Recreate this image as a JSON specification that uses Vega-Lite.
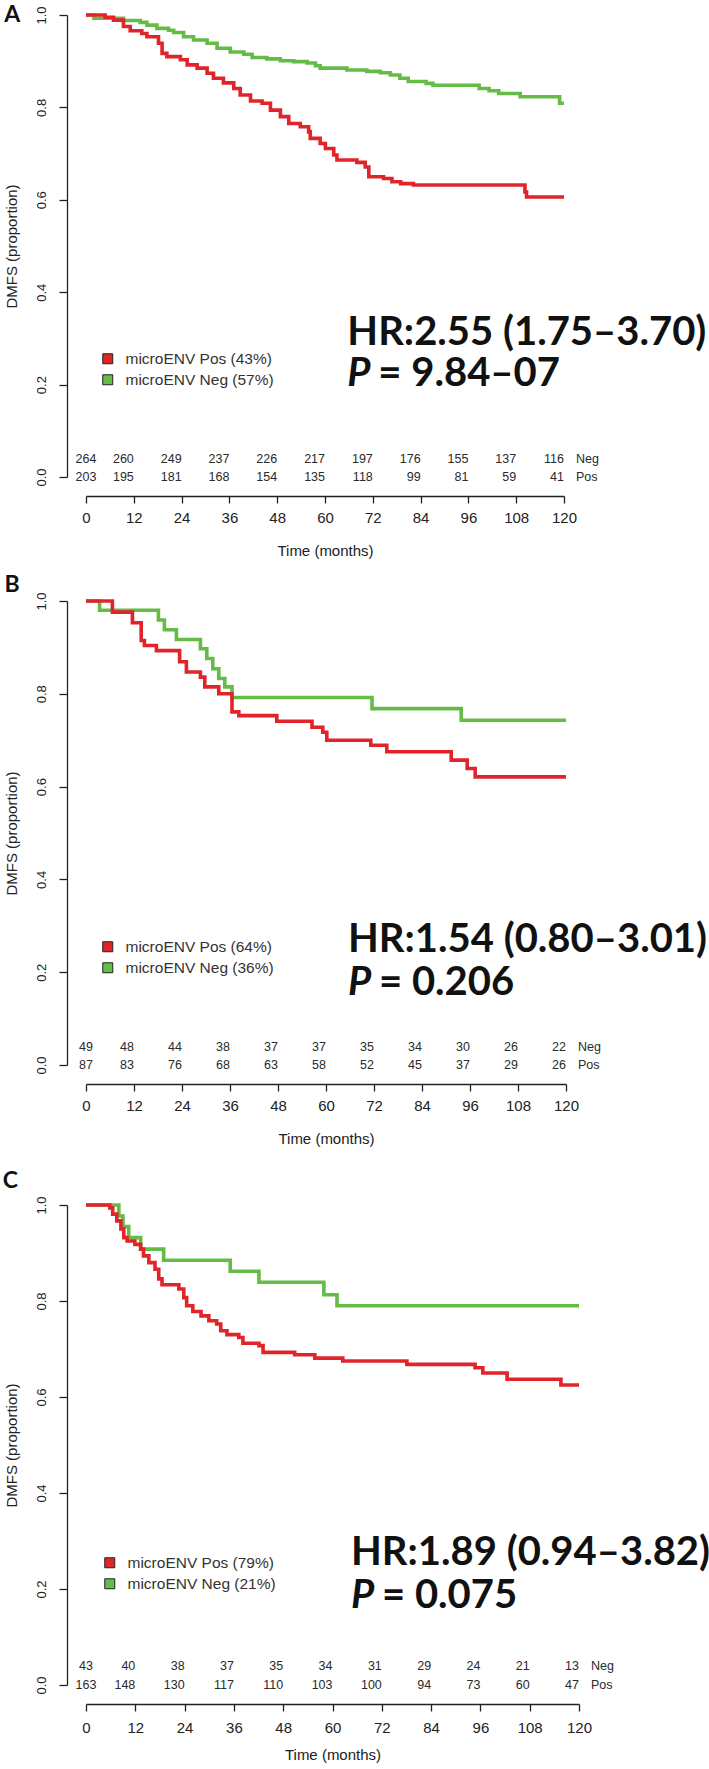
{
 "$schema": "https://vega.github.io/schema/vega-lite/v6.json",
 "padding": {"left": 2, "top": 4, "right": 0, "bottom": 0},
 "background": "white",
 "datasets": {
  "A_curve": [
   {"t":0,"s":1,"g":"Neg"},{"t":2,"s":0.993,"g":"Neg"},{"t":9.4,"s":0.988,"g":"Neg"},{"t":13.6,"s":0.984,"g":"Neg"},{"t":15.3,"s":0.978,"g":"Neg"},{"t":17.8,"s":0.971,"g":"Neg"},{"t":20.7,"s":0.967,"g":"Neg"},{"t":22,"s":0.962,"g":"Neg"},{"t":24.5,"s":0.953,"g":"Neg"},{"t":27,"s":0.946,"g":"Neg"},{"t":30.4,"s":0.939,"g":"Neg"},{"t":32.9,"s":0.928,"g":"Neg"},{"t":36.2,"s":0.92,"g":"Neg"},{"t":39.6,"s":0.915,"g":"Neg"},{"t":41.7,"s":0.908,"g":"Neg"},{"t":45.4,"s":0.905,"g":"Neg"},{"t":48.8,"s":0.901,"g":"Neg"},{"t":52.1,"s":0.899,"g":"Neg"},{"t":55.5,"s":0.896,"g":"Neg"},{"t":57.6,"s":0.89,"g":"Neg"},{"t":58.8,"s":0.885,"g":"Neg"},{"t":65.5,"s":0.881,"g":"Neg"},{"t":70.5,"s":0.878,"g":"Neg"},{"t":73.9,"s":0.875,"g":"Neg"},{"t":76.4,"s":0.87,"g":"Neg"},{"t":78.8,"s":0.863,"g":"Neg"},{"t":80.9,"s":0.856,"g":"Neg"},{"t":85.4,"s":0.852,"g":"Neg"},{"t":87.1,"s":0.848,"g":"Neg"},{"t":98.7,"s":0.841,"g":"Neg"},{"t":101.2,"s":0.836,"g":"Neg"},{"t":103.6,"s":0.83,"g":"Neg"},{"t":109,"s":0.823,"g":"Neg"},{"t":118.9,"s":0.809,"g":"Neg"},{"t":120,"s":0.809,"g":"Neg"},
   {"t":0,"s":1,"g":"Pos"},{"t":4.8,"s":0.995,"g":"Pos"},{"t":6.9,"s":0.989,"g":"Pos"},{"t":9.4,"s":0.975,"g":"Pos"},{"t":11.1,"s":0.966,"g":"Pos"},{"t":14,"s":0.96,"g":"Pos"},{"t":15.3,"s":0.953,"g":"Pos"},{"t":18.2,"s":0.939,"g":"Pos"},{"t":19.1,"s":0.917,"g":"Pos"},{"t":20.3,"s":0.91,"g":"Pos"},{"t":23.7,"s":0.903,"g":"Pos"},{"t":25.4,"s":0.892,"g":"Pos"},{"t":27.9,"s":0.885,"g":"Pos"},{"t":30.4,"s":0.874,"g":"Pos"},{"t":32,"s":0.863,"g":"Pos"},{"t":34.5,"s":0.853,"g":"Pos"},{"t":37.1,"s":0.841,"g":"Pos"},{"t":38.7,"s":0.827,"g":"Pos"},{"t":41.3,"s":0.814,"g":"Pos"},{"t":44.2,"s":0.809,"g":"Pos"},{"t":46.3,"s":0.794,"g":"Pos"},{"t":48.8,"s":0.78,"g":"Pos"},{"t":50.9,"s":0.765,"g":"Pos"},{"t":53.8,"s":0.758,"g":"Pos"},{"t":55.9,"s":0.747,"g":"Pos"},{"t":56.3,"s":0.733,"g":"Pos"},{"t":58.8,"s":0.722,"g":"Pos"},{"t":60.1,"s":0.711,"g":"Pos"},{"t":62.2,"s":0.697,"g":"Pos"},{"t":63,"s":0.686,"g":"Pos"},{"t":68,"s":0.681,"g":"Pos"},{"t":70.1,"s":0.671,"g":"Pos"},{"t":71,"s":0.65,"g":"Pos"},{"t":74.7,"s":0.646,"g":"Pos"},{"t":76.8,"s":0.639,"g":"Pos"},{"t":79,"s":0.635,"g":"Pos"},{"t":82.2,"s":0.632,"g":"Pos"},{"t":110.2,"s":0.617,"g":"Pos"},{"t":110.6,"s":0.606,"g":"Pos"},{"t":120,"s":0.606,"g":"Pos"}
  ],
  "B_curve": [
   {"t":0,"s":1,"g":"Neg"},{"t":3.4,"s":0.98,"g":"Neg"},{"t":18.1,"s":0.959,"g":"Neg"},{"t":19.6,"s":0.938,"g":"Neg"},{"t":22.6,"s":0.917,"g":"Neg"},{"t":28.6,"s":0.897,"g":"Neg"},{"t":30.2,"s":0.876,"g":"Neg"},{"t":31.7,"s":0.854,"g":"Neg"},{"t":33.2,"s":0.833,"g":"Neg"},{"t":34.7,"s":0.815,"g":"Neg"},{"t":36.5,"s":0.792,"g":"Neg"},{"t":71.5,"s":0.768,"g":"Neg"},{"t":93.8,"s":0.743,"g":"Neg"},{"t":120,"s":0.743,"g":"Neg"},
   {"t":0,"s":1,"g":"Pos"},{"t":6.6,"s":0.976,"g":"Pos"},{"t":11.6,"s":0.953,"g":"Pos"},{"t":13.8,"s":0.915,"g":"Pos"},{"t":14.6,"s":0.904,"g":"Pos"},{"t":17.6,"s":0.893,"g":"Pos"},{"t":23.4,"s":0.869,"g":"Pos"},{"t":25.1,"s":0.847,"g":"Pos"},{"t":28.6,"s":0.836,"g":"Pos"},{"t":29.7,"s":0.815,"g":"Pos"},{"t":33.2,"s":0.8,"g":"Pos"},{"t":36.5,"s":0.761,"g":"Pos"},{"t":38.2,"s":0.753,"g":"Pos"},{"t":47.7,"s":0.741,"g":"Pos"},{"t":56.5,"s":0.728,"g":"Pos"},{"t":59.2,"s":0.717,"g":"Pos"},{"t":60.2,"s":0.7,"g":"Pos"},{"t":71.2,"s":0.689,"g":"Pos"},{"t":75.2,"s":0.675,"g":"Pos"},{"t":91.3,"s":0.657,"g":"Pos"},{"t":95.3,"s":0.639,"g":"Pos"},{"t":97.3,"s":0.621,"g":"Pos"},{"t":120,"s":0.621,"g":"Pos"}
  ],
  "C_curve": [
   {"t":0,"s":1,"g":"Neg"},{"t":8,"s":0.977,"g":"Neg"},{"t":9,"s":0.955,"g":"Neg"},{"t":10.4,"s":0.932,"g":"Neg"},{"t":13.3,"s":0.908,"g":"Neg"},{"t":18.9,"s":0.885,"g":"Neg"},{"t":35.1,"s":0.862,"g":"Neg"},{"t":42.1,"s":0.839,"g":"Neg"},{"t":57.9,"s":0.813,"g":"Neg"},{"t":61.1,"s":0.79,"g":"Neg"},{"t":120,"s":0.79,"g":"Neg"},
   {"t":0,"s":1,"g":"Pos"},{"t":5.8,"s":0.994,"g":"Pos"},{"t":6.5,"s":0.981,"g":"Pos"},{"t":7.5,"s":0.967,"g":"Pos"},{"t":8.5,"s":0.95,"g":"Pos"},{"t":9.2,"s":0.932,"g":"Pos"},{"t":10,"s":0.925,"g":"Pos"},{"t":11.9,"s":0.918,"g":"Pos"},{"t":13.3,"s":0.908,"g":"Pos"},{"t":14,"s":0.894,"g":"Pos"},{"t":15.3,"s":0.88,"g":"Pos"},{"t":16.8,"s":0.866,"g":"Pos"},{"t":17.7,"s":0.846,"g":"Pos"},{"t":18.5,"s":0.834,"g":"Pos"},{"t":22.6,"s":0.825,"g":"Pos"},{"t":23.8,"s":0.807,"g":"Pos"},{"t":24.5,"s":0.79,"g":"Pos"},{"t":26,"s":0.778,"g":"Pos"},{"t":28,"s":0.769,"g":"Pos"},{"t":29.9,"s":0.759,"g":"Pos"},{"t":31.8,"s":0.752,"g":"Pos"},{"t":32.8,"s":0.738,"g":"Pos"},{"t":34.3,"s":0.73,"g":"Pos"},{"t":37.2,"s":0.724,"g":"Pos"},{"t":38.2,"s":0.712,"g":"Pos"},{"t":42.1,"s":0.707,"g":"Pos"},{"t":43.1,"s":0.693,"g":"Pos"},{"t":50.8,"s":0.688,"g":"Pos"},{"t":55.7,"s":0.681,"g":"Pos"},{"t":62.5,"s":0.675,"g":"Pos"},{"t":78.1,"s":0.668,"g":"Pos"},{"t":94.7,"s":0.661,"g":"Pos"},{"t":96.6,"s":0.65,"g":"Pos"},{"t":102.5,"s":0.637,"g":"Pos"},{"t":115.6,"s":0.625,"g":"Pos"},{"t":120,"s":0.625,"g":"Pos"}
  ],
  "A_risk": [
   {"t":0,"g":"Neg","n":264},{"t":12,"g":"Neg","n":260},{"t":24,"g":"Neg","n":249},{"t":36,"g":"Neg","n":237},{"t":48,"g":"Neg","n":226},{"t":60,"g":"Neg","n":217},{"t":72,"g":"Neg","n":197},{"t":84,"g":"Neg","n":176},{"t":96,"g":"Neg","n":155},{"t":108,"g":"Neg","n":137},{"t":120,"g":"Neg","n":116},
   {"t":0,"g":"Pos","n":203},{"t":12,"g":"Pos","n":195},{"t":24,"g":"Pos","n":181},{"t":36,"g":"Pos","n":168},{"t":48,"g":"Pos","n":154},{"t":60,"g":"Pos","n":135},{"t":72,"g":"Pos","n":118},{"t":84,"g":"Pos","n":99},{"t":96,"g":"Pos","n":81},{"t":108,"g":"Pos","n":59},{"t":120,"g":"Pos","n":41}
  ],
  "B_risk": [
   {"t":0,"g":"Neg","n":49},{"t":12,"g":"Neg","n":48},{"t":24,"g":"Neg","n":44},{"t":36,"g":"Neg","n":38},{"t":48,"g":"Neg","n":37},{"t":60,"g":"Neg","n":37},{"t":72,"g":"Neg","n":35},{"t":84,"g":"Neg","n":34},{"t":96,"g":"Neg","n":30},{"t":108,"g":"Neg","n":26},{"t":120,"g":"Neg","n":22},
   {"t":0,"g":"Pos","n":87},{"t":12,"g":"Pos","n":83},{"t":24,"g":"Pos","n":76},{"t":36,"g":"Pos","n":68},{"t":48,"g":"Pos","n":63},{"t":60,"g":"Pos","n":58},{"t":72,"g":"Pos","n":52},{"t":84,"g":"Pos","n":45},{"t":96,"g":"Pos","n":37},{"t":108,"g":"Pos","n":29},{"t":120,"g":"Pos","n":26}
  ],
  "C_risk": [
   {"t":0,"g":"Neg","n":43},{"t":12,"g":"Neg","n":40},{"t":24,"g":"Neg","n":38},{"t":36,"g":"Neg","n":37},{"t":48,"g":"Neg","n":35},{"t":60,"g":"Neg","n":34},{"t":72,"g":"Neg","n":31},{"t":84,"g":"Neg","n":29},{"t":96,"g":"Neg","n":24},{"t":108,"g":"Neg","n":21},{"t":120,"g":"Neg","n":13},
   {"t":0,"g":"Pos","n":163},{"t":12,"g":"Pos","n":148},{"t":24,"g":"Pos","n":130},{"t":36,"g":"Pos","n":117},{"t":48,"g":"Pos","n":110},{"t":60,"g":"Pos","n":103},{"t":72,"g":"Pos","n":100},{"t":84,"g":"Pos","n":94},{"t":96,"g":"Pos","n":73},{"t":108,"g":"Pos","n":60},{"t":120,"g":"Pos","n":47}
  ],
  "A_ann": [{"letter":"A","hr":"HR:2.55 (1.75–3.70)","pl":"P","p":"= 9.84–07"}],
  "B_ann": [{"letter":"B","hr":"HR:1.54 (0.80–3.01)","pl":"P","p":"= 0.206"}],
  "C_ann": [{"letter":"C","hr":"HR:1.89 (0.94–3.82)","pl":"P","p":"= 0.075"}]
 },
 "vconcat": [
  {
   "vconcat": [
    {
     "width": 478, "height": 462,
     "layer": [
      {"data": {"name": "A_curve"},
       "mark": {"type": "line", "interpolate": "step-after", "strokeWidth": 3.6},
       "encoding": {
        "x": {"field": "t", "type": "quantitative", "scale": {"domain": [0, 120]}, "axis": {"values": [0,12,24,36,48,60,72,84,96,108,120], "title": "Time (months)"}},
        "y": {"field": "s", "type": "quantitative", "scale": {"domain": [0, 1]}, "axis": {"values": [0,0.2,0.4,0.6,0.8,1], "format": ".1f", "title": "DMFS (proportion)"}},
        "stroke": {"field": "g", "type": "nominal", "scale": {"domain": ["Pos","Neg"], "range": ["#E0242A","#64BB46"]}, "legend": null}
       }},
      {"data": {"values": []},
       "mark": {"type": "square", "stroke": "#222", "strokeWidth": 1, "opacity": 1},
       "encoding": {"fill": {"field": "lab", "type": "nominal", "scale": {"domain": ["microENV Pos (43%)","microENV Neg (57%)"], "range": ["#DD2628","#65BC4A"]}, "legend": {"legendX": 14, "legendY": 336}}}},
      {"data": {"name": "A_risk"}, "transform": [{"filter": "datum.g == 'Neg' && datum.t == 0"}],
       "mark": {"type": "text", "font": "Liberation Sans", "fontSize": 12.5, "fill": "#2a2a2a", "baseline": "middle", "align": "center"},
       "encoding": {"x": {"field": "t", "type": "quantitative"}, "y": {"datum": 0.038}, "text": {"field": "n", "type": "nominal"}}},
      {"data": {"name": "A_risk"}, "transform": [{"filter": "datum.g == 'Neg' && datum.t > 0"}],
       "mark": {"type": "text", "font": "Liberation Sans", "fontSize": 12.5, "fill": "#2a2a2a", "baseline": "middle", "align": "right"},
       "encoding": {"x": {"field": "t", "type": "quantitative"}, "y": {"datum": 0.038}, "text": {"field": "n", "type": "nominal"}}},
      {"data": {"name": "A_risk"}, "transform": [{"filter": "datum.g == 'Pos' && datum.t == 0"}],
       "mark": {"type": "text", "font": "Liberation Sans", "fontSize": 12.5, "fill": "#2a2a2a", "baseline": "middle", "align": "center"},
       "encoding": {"x": {"field": "t", "type": "quantitative"}, "y": {"datum": 0}, "text": {"field": "n", "type": "nominal"}}},
      {"data": {"name": "A_risk"}, "transform": [{"filter": "datum.g == 'Pos' && datum.t > 0"}],
       "mark": {"type": "text", "font": "Liberation Sans", "fontSize": 12.5, "fill": "#2a2a2a", "baseline": "middle", "align": "right"},
       "encoding": {"x": {"field": "t", "type": "quantitative"}, "y": {"datum": 0}, "text": {"field": "n", "type": "nominal"}}},
      {"data": {"name": "A_risk"}, "transform": [{"filter": "datum.g == 'Neg' && datum.t == 120"}],
       "mark": {"type": "text", "font": "Liberation Sans", "fontSize": 12.5, "fill": "#2a2a2a", "baseline": "middle", "align": "left", "dx": 12},
       "encoding": {"x": {"field": "t", "type": "quantitative"}, "y": {"datum": 0.038}, "text": {"field": "g", "type": "nominal"}}},
      {"data": {"name": "A_risk"}, "transform": [{"filter": "datum.g == 'Pos' && datum.t == 120"}],
       "mark": {"type": "text", "font": "Liberation Sans", "fontSize": 12.5, "fill": "#2a2a2a", "baseline": "middle", "align": "left", "dx": 12},
       "encoding": {"x": {"field": "t", "type": "quantitative"}, "y": {"datum": 0}, "text": {"field": "g", "type": "nominal"}}},
      {"data": {"name": "A_ann"},
       "mark": {"type": "text", "font": "Lato", "fontSize": 40, "fontWeight": "bold", "fill": "#111", "baseline": "alphabetic", "align": "left"},
       "encoding": {"x": {"datum": 65.6}, "y": {"datum": 0.285}, "text": {"field": "hr", "type": "nominal"}}},
      {"data": {"name": "A_ann"},
       "mark": {"type": "text", "font": "Lato", "fontSize": 40, "fontWeight": "bold", "fontStyle": "italic", "fill": "#111", "baseline": "alphabetic", "align": "left"},
       "encoding": {"x": {"datum": 65.6}, "y": {"datum": 0.197}, "text": {"field": "pl", "type": "nominal"}}},
      {"data": {"name": "A_ann"},
       "mark": {"type": "text", "font": "Lato", "fontSize": 40, "fontWeight": "bold", "fill": "#111", "baseline": "alphabetic", "align": "left", "dx": 31},
       "encoding": {"x": {"datum": 65.6}, "y": {"datum": 0.197}, "text": {"field": "p", "type": "nominal"}}},
      {"data": {"name": "A_ann"},
       "mark": {"type": "text", "font": "Lato", "fontSize": 23, "fontWeight": "bold", "fill": "#111", "baseline": "middle", "align": "center"},
       "encoding": {"x": {"datum": -18.5}, "y": {"datum": 1.0}, "text": {"field": "letter", "type": "nominal"}}}
     ]
    },
    {
     "width": 480, "height": 464,
     "layer": [
      {"data": {"name": "B_curve"},
       "mark": {"type": "line", "interpolate": "step-after", "strokeWidth": 3.6},
       "encoding": {
        "x": {"field": "t", "type": "quantitative", "scale": {"domain": [0, 120]}, "axis": {"values": [0,12,24,36,48,60,72,84,96,108,120], "title": "Time (months)"}},
        "y": {"field": "s", "type": "quantitative", "scale": {"domain": [0, 1]}, "axis": {"values": [0,0.2,0.4,0.6,0.8,1], "format": ".1f", "title": "DMFS (proportion)"}},
        "stroke": {"field": "g", "type": "nominal", "scale": {"domain": ["Pos","Neg"], "range": ["#E0242A","#64BB46"]}, "legend": null}
       }},
      {"data": {"values": []},
       "mark": {"type": "square", "stroke": "#222", "strokeWidth": 1, "opacity": 1},
       "encoding": {"fill": {"field": "lab", "type": "nominal", "scale": {"domain": ["microENV Pos (64%)","microENV Neg (36%)"], "range": ["#DD2628","#65BC4A"]}, "legend": {"legendX": 14, "legendY": 338}}}},
      {"data": {"name": "B_risk"}, "transform": [{"filter": "datum.g == 'Neg' && datum.t == 0"}],
       "mark": {"type": "text", "font": "Liberation Sans", "fontSize": 12.5, "fill": "#2a2a2a", "baseline": "middle", "align": "center"},
       "encoding": {"x": {"field": "t", "type": "quantitative"}, "y": {"datum": 0.038}, "text": {"field": "n", "type": "nominal"}}},
      {"data": {"name": "B_risk"}, "transform": [{"filter": "datum.g == 'Neg' && datum.t > 0"}],
       "mark": {"type": "text", "font": "Liberation Sans", "fontSize": 12.5, "fill": "#2a2a2a", "baseline": "middle", "align": "right"},
       "encoding": {"x": {"field": "t", "type": "quantitative"}, "y": {"datum": 0.038}, "text": {"field": "n", "type": "nominal"}}},
      {"data": {"name": "B_risk"}, "transform": [{"filter": "datum.g == 'Pos' && datum.t == 0"}],
       "mark": {"type": "text", "font": "Liberation Sans", "fontSize": 12.5, "fill": "#2a2a2a", "baseline": "middle", "align": "center"},
       "encoding": {"x": {"field": "t", "type": "quantitative"}, "y": {"datum": 0}, "text": {"field": "n", "type": "nominal"}}},
      {"data": {"name": "B_risk"}, "transform": [{"filter": "datum.g == 'Pos' && datum.t > 0"}],
       "mark": {"type": "text", "font": "Liberation Sans", "fontSize": 12.5, "fill": "#2a2a2a", "baseline": "middle", "align": "right"},
       "encoding": {"x": {"field": "t", "type": "quantitative"}, "y": {"datum": 0}, "text": {"field": "n", "type": "nominal"}}},
      {"data": {"name": "B_risk"}, "transform": [{"filter": "datum.g == 'Neg' && datum.t == 120"}],
       "mark": {"type": "text", "font": "Liberation Sans", "fontSize": 12.5, "fill": "#2a2a2a", "baseline": "middle", "align": "left", "dx": 12},
       "encoding": {"x": {"field": "t", "type": "quantitative"}, "y": {"datum": 0.038}, "text": {"field": "g", "type": "nominal"}}},
      {"data": {"name": "B_risk"}, "transform": [{"filter": "datum.g == 'Pos' && datum.t == 120"}],
       "mark": {"type": "text", "font": "Liberation Sans", "fontSize": 12.5, "fill": "#2a2a2a", "baseline": "middle", "align": "left", "dx": 12},
       "encoding": {"x": {"field": "t", "type": "quantitative"}, "y": {"datum": 0}, "text": {"field": "g", "type": "nominal"}}},
      {"data": {"name": "B_ann"},
       "mark": {"type": "text", "font": "Lato", "fontSize": 40, "fontWeight": "bold", "fill": "#111", "baseline": "alphabetic", "align": "left"},
       "encoding": {"x": {"datum": 65.5}, "y": {"datum": 0.243}, "text": {"field": "hr", "type": "nominal"}}},
      {"data": {"name": "B_ann"},
       "mark": {"type": "text", "font": "Lato", "fontSize": 40, "fontWeight": "bold", "fontStyle": "italic", "fill": "#111", "baseline": "alphabetic", "align": "left"},
       "encoding": {"x": {"datum": 65.5}, "y": {"datum": 0.15}, "text": {"field": "pl", "type": "nominal"}}},
      {"data": {"name": "B_ann"},
       "mark": {"type": "text", "font": "Lato", "fontSize": 40, "fontWeight": "bold", "fill": "#111", "baseline": "alphabetic", "align": "left", "dx": 31},
       "encoding": {"x": {"datum": 65.5}, "y": {"datum": 0.15}, "text": {"field": "p", "type": "nominal"}}},
      {"data": {"name": "B_ann"},
       "mark": {"type": "text", "font": "Lato", "fontSize": 23, "fontWeight": "bold", "fill": "#111", "baseline": "middle", "align": "center"},
       "encoding": {"x": {"datum": -18.5}, "y": {"datum": 1.034}, "text": {"field": "letter", "type": "nominal"}}}
     ]
    }
   ],
   "spacing": 124,
   "bounds": "flush",
   "resolve": {"scale": {"stroke": "independent", "fill": "independent"}}
  },
  {
   "width": 493, "height": 480,
   "layer": [
    {"data": {"name": "C_curve"},
     "mark": {"type": "line", "interpolate": "step-after", "strokeWidth": 3.6},
     "encoding": {
      "x": {"field": "t", "type": "quantitative", "scale": {"domain": [0, 120]}, "axis": {"values": [0,12,24,36,48,60,72,84,96,108,120], "title": "Time (months)", "labelPadding": 9.5, "titlePadding": 12}},
      "y": {"field": "s", "type": "quantitative", "scale": {"domain": [0, 1]}, "axis": {"values": [0,0.2,0.4,0.6,0.8,1], "format": ".1f", "title": "DMFS (proportion)"}},
      "stroke": {"field": "g", "type": "nominal", "scale": {"domain": ["Pos","Neg"], "range": ["#E0242A","#64BB46"]}, "legend": null}
     }},
    {"data": {"values": []},
     "mark": {"type": "square", "stroke": "#222", "strokeWidth": 1, "opacity": 1},
     "encoding": {"fill": {"field": "lab", "type": "nominal", "scale": {"domain": ["microENV Pos (79%)","microENV Neg (21%)"], "range": ["#DD2628","#65BC4A"]}, "legend": {"legendX": 16, "legendY": 350}}}},
    {"data": {"name": "C_risk"}, "transform": [{"filter": "datum.g == 'Neg' && datum.t == 0"}],
     "mark": {"type": "text", "font": "Liberation Sans", "fontSize": 12.5, "fill": "#2a2a2a", "baseline": "middle", "align": "center"},
     "encoding": {"x": {"field": "t", "type": "quantitative"}, "y": {"datum": 0.04}, "text": {"field": "n", "type": "nominal"}}},
    {"data": {"name": "C_risk"}, "transform": [{"filter": "datum.g == 'Neg' && datum.t > 0"}],
     "mark": {"type": "text", "font": "Liberation Sans", "fontSize": 12.5, "fill": "#2a2a2a", "baseline": "middle", "align": "right"},
     "encoding": {"x": {"field": "t", "type": "quantitative"}, "y": {"datum": 0.04}, "text": {"field": "n", "type": "nominal"}}},
    {"data": {"name": "C_risk"}, "transform": [{"filter": "datum.g == 'Pos' && datum.t == 0"}],
     "mark": {"type": "text", "font": "Liberation Sans", "fontSize": 12.5, "fill": "#2a2a2a", "baseline": "middle", "align": "center"},
     "encoding": {"x": {"field": "t", "type": "quantitative"}, "y": {"datum": 0}, "text": {"field": "n", "type": "nominal"}}},
    {"data": {"name": "C_risk"}, "transform": [{"filter": "datum.g == 'Pos' && datum.t > 0"}],
     "mark": {"type": "text", "font": "Liberation Sans", "fontSize": 12.5, "fill": "#2a2a2a", "baseline": "middle", "align": "right"},
     "encoding": {"x": {"field": "t", "type": "quantitative"}, "y": {"datum": 0}, "text": {"field": "n", "type": "nominal"}}},
    {"data": {"name": "C_risk"}, "transform": [{"filter": "datum.g == 'Neg' && datum.t == 120"}],
     "mark": {"type": "text", "font": "Liberation Sans", "fontSize": 12.5, "fill": "#2a2a2a", "baseline": "middle", "align": "left", "dx": 12},
     "encoding": {"x": {"field": "t", "type": "quantitative"}, "y": {"datum": 0.04}, "text": {"field": "g", "type": "nominal"}}},
    {"data": {"name": "C_risk"}, "transform": [{"filter": "datum.g == 'Pos' && datum.t == 120"}],
     "mark": {"type": "text", "font": "Liberation Sans", "fontSize": 12.5, "fill": "#2a2a2a", "baseline": "middle", "align": "left", "dx": 12},
     "encoding": {"x": {"field": "t", "type": "quantitative"}, "y": {"datum": 0}, "text": {"field": "g", "type": "nominal"}}},
    {"data": {"name": "C_ann"},
     "mark": {"type": "text", "font": "Lato", "fontSize": 40, "fontWeight": "bold", "fill": "#111", "baseline": "alphabetic", "align": "left"},
     "encoding": {"x": {"datum": 64.5}, "y": {"datum": 0.25}, "text": {"field": "hr", "type": "nominal"}}},
    {"data": {"name": "C_ann"},
     "mark": {"type": "text", "font": "Lato", "fontSize": 40, "fontWeight": "bold", "fontStyle": "italic", "fill": "#111", "baseline": "alphabetic", "align": "left"},
     "encoding": {"x": {"datum": 64.5}, "y": {"datum": 0.16}, "text": {"field": "pl", "type": "nominal"}}},
    {"data": {"name": "C_ann"},
     "mark": {"type": "text", "font": "Lato", "fontSize": 40, "fontWeight": "bold", "fill": "#111", "baseline": "alphabetic", "align": "left", "dx": 31},
     "encoding": {"x": {"datum": 64.5}, "y": {"datum": 0.16}, "text": {"field": "p", "type": "nominal"}}},
    {"data": {"name": "C_ann"},
     "mark": {"type": "text", "font": "Lato", "fontSize": 23, "fontWeight": "bold", "fill": "#111", "baseline": "middle", "align": "center"},
     "encoding": {"x": {"datum": -18.4}, "y": {"datum": 1.049}, "text": {"field": "letter", "type": "nominal"}}}
   ]
  }
 ],
 "spacing": 24,
 "bounds": "full",
 "resolve": {"scale": {"stroke": "independent", "fill": "independent"}},
 "config": {
  "view": {"stroke": null},
  "font": "Liberation Sans",
  "axis": {"grid": false, "domainColor": "#222", "tickColor": "#222", "domainWidth": 1.3, "tickWidth": 1.3, "labelColor": "#222", "titleColor": "#222", "labelFont": "Liberation Sans", "titleFont": "Liberation Sans", "titleFontWeight": "normal", "labelFlush": false, "labelOverlap": false, "labelBound": false, "offset": 19},
  "axisX": {"tickSize": 7, "labelFontSize": 15, "labelPadding": 7, "titleFontSize": 15, "titlePadding": 18},
  "axisY": {"tickSize": 8, "labelFontSize": 13, "labelAngle": 270, "labelAlign": "center", "labelBaseline": "bottom", "labelPadding": 11, "titleFontSize": 15, "titlePadding": 16},
  "legend": {"orient": "none", "title": null, "padding": 0, "symbolType": "square", "symbolSize": 100, "symbolStrokeColor": "#222", "symbolStrokeWidth": 1, "labelFont": "Liberation Sans", "labelFontSize": 15.5, "labelColor": "#333", "labelOffset": 10, "rowPadding": 4}
 }
}
